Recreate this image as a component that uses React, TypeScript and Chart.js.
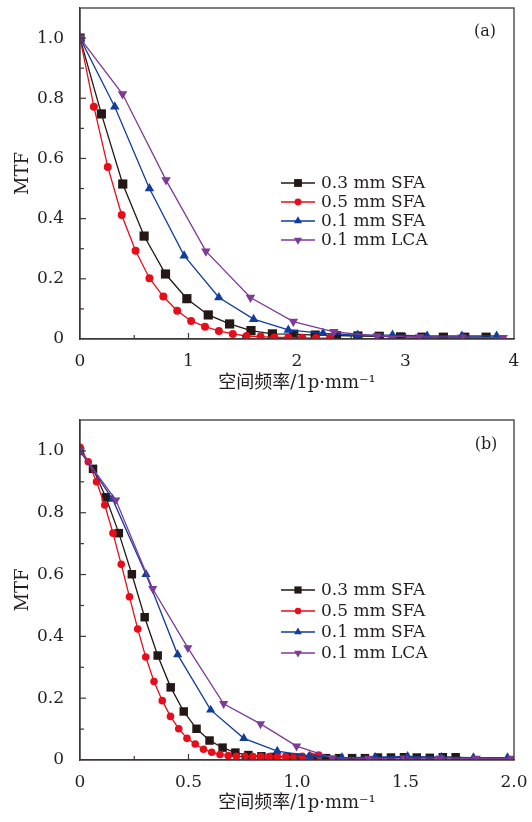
import React, { useEffect, useRef } from "react";
import { Chart, registerables } from "chart.js";
Chart.register(...registerables);

// ---------- data ----------
const SERIES_LABELS = ["0.3 mm SFA", "0.5 mm SFA", "0.1 mm SFA", "0.1 mm LCA"];
const X_TITLE = "空间频率/1p·mm⁻¹";
const Y_TITLE = "MTF";

// Panel (a)
const A_X_SFA03 = [0, 0.197, 0.394, 0.591, 0.788, 0.985, 1.182, 1.379, 1.576, 1.773, 1.97, 2.167, 2.364, 2.561, 2.758, 2.955, 3.152, 3.349, 3.546, 3.743];
const A_Y_SFA03 = [1.0, 0.748, 0.515, 0.342, 0.216, 0.134, 0.08, 0.05, 0.028, 0.017, 0.016, 0.013, 0.011, 0.01, 0.009, 0.007, 0.006, 0.006, 0.006, 0.006];
const A_X_SFA05 = [0, 0.128, 0.256, 0.384, 0.512, 0.64, 0.768, 0.896, 1.024, 1.152, 1.28, 1.408, 1.536, 1.664, 1.792, 1.92, 2.048, 2.176, 2.304];
const A_Y_SFA05 = [1.0, 0.772, 0.572, 0.412, 0.293, 0.202, 0.141, 0.094, 0.06, 0.041, 0.027, 0.017, 0.01, 0.008, 0.005, 0.005, 0.004, 0.003, 0.003];
const A_X_SFA01 = [0, 0.32, 0.64, 0.96, 1.28, 1.6, 1.92, 2.24, 2.56, 2.88, 3.2, 3.52, 3.84];
const A_Y_SFA01 = [1.0, 0.772, 0.5, 0.277, 0.138, 0.066, 0.03, 0.019, 0.013, 0.013, 0.01, 0.01, 0.01];
const A_X_LCA01 = [0, 0.392, 0.793, 1.16, 1.571, 1.966, 2.34, 2.74, 3.13, 3.52, 3.9];
const A_Y_LCA01 = [1.0, 0.814, 0.528, 0.292, 0.138, 0.058, 0.024, 0.01, 0.007, 0.006, 0.004];
const A_X_TICKS = [0, 1, 2, 3, 4];
const A_X_TICK_LABELS = ["0", "1", "2", "3", "4"];

// Panel (b)
const B_X_SFA03 = [0, 0.06, 0.119, 0.179, 0.239, 0.298, 0.358, 0.418, 0.478, 0.537, 0.597, 0.657, 0.716, 0.776, 0.836, 0.895, 0.955, 1.015, 1.075, 1.134, 1.194, 1.254, 1.313, 1.373, 1.433, 1.493, 1.552, 1.612, 1.672, 1.731];
const B_Y_SFA03 = [1.0, 0.942, 0.85, 0.734, 0.601, 0.462, 0.338, 0.235, 0.157, 0.101, 0.063, 0.04, 0.024, 0.016, 0.012, 0.01, 0.009, 0.008, 0.007, 0.006, 0.006, 0.006, 0.006, 0.008, 0.008, 0.009, 0.008, 0.007, 0.009, 0.009];
const B_X_SFA05 = [0, 0.038, 0.076, 0.114, 0.152, 0.19, 0.228, 0.266, 0.303, 0.341, 0.379, 0.417, 0.455, 0.493, 0.531, 0.569, 0.607, 0.645, 0.683, 0.721, 0.759, 0.797, 0.834, 0.872, 0.91, 0.948, 0.986, 1.024, 1.062, 1.1];
const B_Y_SFA05 = [1.012, 0.965, 0.9, 0.825, 0.734, 0.633, 0.528, 0.424, 0.333, 0.254, 0.192, 0.141, 0.101, 0.07, 0.052, 0.035, 0.025, 0.018, 0.014, 0.012, 0.012, 0.011, 0.011, 0.011, 0.011, 0.011, 0.011, 0.012, 0.013, 0.016];
const B_X_SFA01 = [0, 0.15, 0.304, 0.45, 0.602, 0.755, 0.909, 1.057, 1.207, 1.36, 1.51, 1.665, 1.813, 1.97];
const B_Y_SFA01 = [1.0, 0.844, 0.601, 0.341, 0.162, 0.07, 0.029, 0.013, 0.008, 0.009, 0.012, 0.009, 0.008, 0.008];
const B_X_LCA01 = [0, 0.165, 0.335, 0.497, 0.662, 0.832, 0.998, 1.162, 1.33, 1.495, 1.66, 1.826, 1.99];
const B_Y_LCA01 = [1.0, 0.841, 0.554, 0.363, 0.182, 0.117, 0.045, 0.007, 0.005, 0.006, 0.006, 0.005, 0.005];
const B_X_TICKS = [0, 0.5, 1, 1.5, 2];
const B_X_TICK_LABELS = ["0", "0.5", "1.0", "1.5", "2.0"];

const Y_TICKS = [0, 0.2, 0.4, 0.6, 0.8, 1.0];
const Y_TICK_LABELS = ["0", "0.2", "0.4", "0.6", "0.8", "1.0"];

// ---------- styles ----------
const COLORS = ["#231815", "#e60e1a", "#123d9a", "#7d3a97"];
const STYLES = ["rect", "circle", "triangle", "triangle"];
const ROTS = [0, 0, 0, 180];
const AXIS_COLOR = "#3d3838";
const TEXT_COLOR = "#231f1f";
const FONT_FAMILY = "'DejaVu Serif', 'Noto Sans CJK SC', serif";

type Panel = {
  xs: number[][];
  ys: number[][];
  xMax: number;
  xTicks: number[];
  xTickLabels: string[];
  xMinor: number;
  radii: number[];
  padTop: number;
  xAxisH: number;
  titlePadBottom: number;
  legendY0: number;
  legendStep: number;
  tag: string;
  tagX: number;
  tagY: number;
};

const PANEL_A: Panel = {
  xs: [A_X_SFA03, A_X_SFA05, A_X_SFA01, A_X_LCA01],
  ys: [A_Y_SFA03, A_Y_SFA05, A_Y_SFA01, A_Y_LCA01],
  xMax: 4,
  xTicks: A_X_TICKS,
  xTickLabels: A_X_TICK_LABELS,
  xMinor: 0.5,
  radii: [6.5, 4, 5.5, 5.5],
  padTop: 8,
  xAxisH: 66,
  titlePadBottom: 11,
  legendY0: 183,
  legendStep: 19,
  tag: "(a)",
  tagX: 485,
  tagY: 32,
};

const PANEL_B: Panel = {
  xs: [B_X_SFA03, B_X_SFA05, B_X_SFA01, B_X_LCA01],
  ys: [B_Y_SFA03, B_Y_SFA05, B_Y_SFA01, B_Y_LCA01],
  xMax: 2,
  xTicks: B_X_TICKS,
  xTickLabels: B_X_TICK_LABELS,
  xMinor: 0.25,
  radii: [6, 3.8, 5.3, 5.3],
  padTop: 15,
  xAxisH: 62,
  titlePadBottom: 8,
  legendY0: 185,
  legendStep: 21,
  tag: "(b)",
  tagX: 486,
  tagY: 40,
};

function drawMarker(ctx: CanvasRenderingContext2D, style: string, rot: number, r: number, x: number, y: number) {
  ctx.beginPath();
  if (style === "rect") {
    const s = Math.SQRT1_2 * r;
    ctx.rect(x - s, y - s, 2 * s, 2 * s);
  } else if (style === "circle") {
    ctx.arc(x, y, r, 0, Math.PI * 2);
  } else {
    let a = (rot * Math.PI) / 180;
    ctx.moveTo(x + Math.sin(a) * r, y - Math.cos(a) * r);
    a += (2 * Math.PI) / 3;
    ctx.lineTo(x + Math.sin(a) * r, y - Math.cos(a) * r);
    a += (2 * Math.PI) / 3;
    ctx.lineTo(x + Math.sin(a) * r, y - Math.cos(a) * r);
    ctx.closePath();
  }
  ctx.fill();
}

const decorPlugin = {
  id: "decor",
  afterDraw(chart: any, _args: any, opts: any) {
    const ctx: CanvasRenderingContext2D = chart.ctx;
    const { left, right, top, bottom } = chart.chartArea;
    const xs = chart.scales.x;
    const ys = chart.scales.y;
    const p: Panel = opts.panel;
    ctx.save();
    // frame
    ctx.strokeStyle = AXIS_COLOR;
    ctx.lineWidth = 1.3;
    ctx.strokeRect(left, top, right - left, bottom - top);
    // inward ticks on y
    ctx.lineWidth = 1.2;
    for (let i = 1; i <= 10; i++) {
      const py = ys.getPixelForValue(i / 10);
      const len = i % 2 === 0 ? 6 : 4;
      ctx.beginPath();
      ctx.moveTo(left, py);
      ctx.lineTo(left + len, py);
      ctx.stroke();
    }
    // inward ticks on x
    const n = Math.round(p.xMax / p.xMinor);
    for (let i = 1; i < n; i++) {
      const v = i * p.xMinor;
      const px = xs.getPixelForValue(v);
      const len = i % 2 === 0 ? 6 : 4;
      ctx.beginPath();
      ctx.moveTo(px, bottom);
      ctx.lineTo(px, bottom - len);
      ctx.stroke();
    }
    // legend
    ctx.font = `17px ${FONT_FAMILY}`;
    ctx.textBaseline = "middle";
    ctx.textAlign = "left";
    chart.data.datasets.forEach((ds: any, i: number) => {
      const y = p.legendY0 + i * p.legendStep;
      ctx.strokeStyle = COLORS[i];
      ctx.lineWidth = 1.4;
      ctx.beginPath();
      ctx.moveTo(281, y);
      ctx.lineTo(315, y);
      ctx.stroke();
      ctx.fillStyle = COLORS[i];
      drawMarker(ctx, STYLES[i], ROTS[i], p.radii[i] * 0.85, 298, y);
      ctx.fillStyle = TEXT_COLOR;
      ctx.fillText(ds.label, 321, y + 1);
    });
    // panel tag
    ctx.textAlign = "center";
    ctx.font = `16px ${FONT_FAMILY}`;
    ctx.fillText(p.tag, p.tagX, p.tagY);
    ctx.restore();
  },
};

function buildConfig(p: Panel): any {
  const datasets = SERIES_LABELS.map((label, i) => ({
    label,
    data: p.xs[i].map((x, j) => ({ x, y: p.ys[i][j] })),
    borderColor: COLORS[i],
    backgroundColor: COLORS[i],
    borderWidth: 1.3,
    pointStyle: STYLES[i],
    rotation: ROTS[i],
    pointRotation: ROTS[i],
    pointRadius: p.radii[i],
    pointBorderWidth: 0,
    pointHoverRadius: p.radii[i],
    tension: 0,
    order: 4 - i,
  }));
  const tickFont = { family: FONT_FAMILY, size: 17 };
  return {
    type: "line",
    data: { datasets },
    plugins: [decorPlugin],
    options: {
      animation: false,
      responsive: true,
      maintainAspectRatio: false,
      layout: { padding: { top: p.padTop, right: 18, left: 0, bottom: 0 } },
      plugins: {
        legend: { display: false },
        tooltip: { enabled: false },
        decor: { panel: p },
      },
      scales: {
        x: {
          type: "linear",
          min: 0,
          max: p.xMax,
          grid: { display: false },
          border: { display: true, color: AXIS_COLOR, width: 1.3 },
          ticks: {
            color: TEXT_COLOR,
            font: tickFont,
            padding: 4,
            maxRotation: 0,
            autoSkip: false,
            callback: (v: number) => {
              const k = p.xTicks.findIndex((t) => Math.abs(t - v) < 1e-9);
              return k >= 0 ? p.xTickLabels[k] : "";
            },
          },
          afterBuildTicks: (axis: any) => {
            axis.ticks = p.xTicks.map((v) => ({ value: v }));
          },
          afterFit: (axis: any) => {
            axis.height = p.xAxisH;
            axis.paddingLeft = 0;
            axis.paddingRight = 0;
          },
          title: {
            display: true,
            text: X_TITLE,
            color: TEXT_COLOR,
            font: { family: FONT_FAMILY, size: 18 },
            padding: { top: 0, bottom: p.titlePadBottom },
          },
        },
        y: {
          type: "linear",
          min: 0,
          max: 1.1,
          grid: { display: false },
          border: { display: true, color: AXIS_COLOR, width: 1.3 },
          ticks: {
            color: TEXT_COLOR,
            font: tickFont,
            padding: 8,
            autoSkip: false,
            callback: (v: number) => {
              const k = Y_TICKS.findIndex((t) => Math.abs(t - v) < 1e-9);
              return k >= 0 ? Y_TICK_LABELS[k] : "";
            },
          },
          afterBuildTicks: (axis: any) => {
            axis.ticks = Y_TICKS.map((v) => ({ value: v }));
          },
          afterFit: (axis: any) => {
            axis.width = 80;
            axis.paddingTop = 0;
            axis.paddingBottom = 0;
          },
          title: {
            display: true,
            text: Y_TITLE,
            color: TEXT_COLOR,
            font: { family: FONT_FAMILY, size: 18 },
            padding: { top: 13, bottom: 0 },
          },
        },
      },
    },
  };
}

function PanelChart({ panel, top, height }: { panel: Panel; top: number; height: number }) {
  const ref = useRef<HTMLCanvasElement | null>(null);
  useEffect(() => {
    if (!ref.current) return;
    const chart = new Chart(ref.current, buildConfig(panel));
    return () => chart.destroy();
  }, [panel]);
  return (
    <div style={{ position: "absolute", left: 0, top, width: 532, height }}>
      <canvas ref={ref} />
    </div>
  );
}

export default function App() {
  return (
    <div style={{ position: "absolute", left: 0, top: 0, width: 532, height: 822, background: "#fff" }}>
      <PanelChart panel={PANEL_A} top={0} height={405} />
      <PanelChart panel={PANEL_B} top={405} height={417} />
    </div>
  );
}
